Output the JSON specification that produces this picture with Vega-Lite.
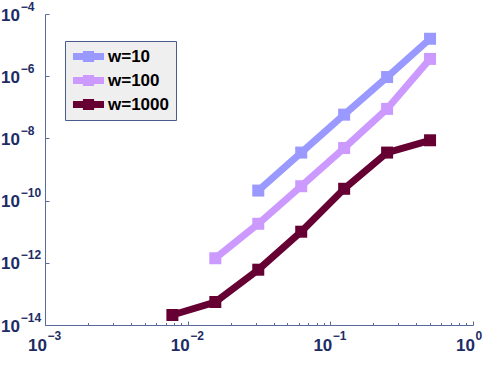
{
  "$schema": "https://vega.github.io/schema/vega-lite/v6.json",
  "autosize": {"type": "none"},
  "width": 428,
  "height": 311,
  "padding": {"left": 45, "top": 14, "right": 11, "bottom": 40},
  "background": "white",
  "config": {
    "view": {"stroke": null},
    "axis": {
      "labels": false,
      "grid": false,
      "title": null,
      "domainColor": "#5a6a9a",
      "tickColor": "#5a6a9a",
      "domainWidth": 1,
      "tickWidth": 1
    },
    "legend": {
      "orient": "none",
      "legendX": 20,
      "legendY": 27,
      "fillColor": "#efefef",
      "strokeColor": "#4a5c8c",
      "padding": 7,
      "rowPadding": 6,
      "symbolType": "M-1.94,-0.45H1.94V0.45H-1.94Z M-0.7,-0.7H0.7V0.7H-0.7Z",
      "symbolSize": 256,
      "symbolStrokeWidth": 0,
      "symbolOffset": 8,
      "labelOffset": 11,
      "labelFont": "Liberation Sans",
      "labelFontWeight": "bold",
      "labelFontSize": 17,
      "labelColor": "#000000",
      "title": null
    }
  },
  "datasets": {
    "errors": [
      {"h": 0.03125, "err": 2.1e-10, "w": "w=10"},
      {"h": 0.0625, "err": 3.5e-9, "w": "w=10"},
      {"h": 0.125, "err": 5.8e-8, "w": "w=10"},
      {"h": 0.25, "err": 9.4e-7, "w": "w=10"},
      {"h": 0.5, "err": 1.6e-5, "w": "w=10"},
      {"h": 0.015625, "err": 1.4e-12, "w": "w=100"},
      {"h": 0.03125, "err": 1.8e-11, "w": "w=100"},
      {"h": 0.0625, "err": 2.9e-10, "w": "w=100"},
      {"h": 0.125, "err": 4.9e-9, "w": "w=100"},
      {"h": 0.25, "err": 8.9e-8, "w": "w=100"},
      {"h": 0.5, "err": 3.6e-6, "w": "w=100"},
      {"h": 0.0078125, "err": 2.1e-14, "w": "w=1000"},
      {"h": 0.015625, "err": 5.5e-14, "w": "w=1000"},
      {"h": 0.03125, "err": 6.0e-13, "w": "w=1000"},
      {"h": 0.0625, "err": 1.0e-11, "w": "w=1000"},
      {"h": 0.125, "err": 2.4e-10, "w": "w=1000"},
      {"h": 0.25, "err": 3.5e-9, "w": "w=1000"},
      {"h": 0.5, "err": 8.7e-9, "w": "w=1000"}
    ],
    "xticks": [
      {"v": 0.001, "e": "−3"},
      {"v": 0.01, "e": "−2"},
      {"v": 0.1, "e": "−1"},
      {"v": 1, "e": "0"}
    ],
    "yticks": [
      {"v": 1e-4, "e": "−4"},
      {"v": 1e-6, "e": "−6"},
      {"v": 1e-8, "e": "−8"},
      {"v": 1e-10, "e": "−10"},
      {"v": 1e-12, "e": "−12"},
      {"v": 1e-14, "e": "−14"}
    ]
  },
  "layer": [
    {
      "data": {"name": "errors"},
      "mark": {
        "type": "line",
        "strokeWidth": 7,
        "point": {"shape": "square", "size": 144, "filled": true, "opacity": 1}
      },
      "encoding": {
        "x": {
          "field": "h",
          "type": "quantitative",
          "scale": {"type": "log", "domain": [0.001, 1], "nice": false},
          "axis": {
            "orient": "bottom",
            "values": [0.001, 0.002, 0.003, 0.004, 0.005, 0.006, 0.007, 0.008, 0.009,
                       0.01, 0.02, 0.03, 0.04, 0.05, 0.06, 0.07, 0.08, 0.09,
                       0.1, 0.2, 0.3, 0.4, 0.5, 0.6, 0.7, 0.8, 0.9, 1],
            "tickSize": {
              "condition": {"test": "indexof([0.001, 0.01, 0.1, 1], datum.value) >= 0", "value": -4},
              "value": -2.5
            }
          }
        },
        "y": {
          "field": "err",
          "type": "quantitative",
          "scale": {"type": "log", "domain": [1e-14, 1e-4], "nice": false},
          "axis": {
            "orient": "left",
            "values": [1e-4, 1e-6, 1e-8, 1e-10, 1e-12, 1e-14],
            "tickSize": -4
          }
        },
        "color": {
          "field": "w",
          "type": "nominal",
          "scale": {"domain": ["w=10", "w=100", "w=1000"], "range": ["#9999ff", "#cc99ff", "#660033"]},
          "legend": {
            "encode": {
              "symbols": {"update": {"fill": {"scale": "color", "field": "value"}, "stroke": {"value": "transparent"}, "opacity": {"value": 1}}}
            }
          }
        }
      }
    },
    {
      "data": {"name": "xticks"},
      "mark": {"type": "text", "text": "10", "align": "right", "baseline": "middle", "dx": 2, "dy": 21,
               "font": "Liberation Sans", "fontWeight": "bold", "fontSize": 17, "color": "#1c2c64"},
      "encoding": {
        "x": {"field": "v", "type": "quantitative"},
        "y": {"datum": 1e-14, "type": "quantitative"}
      }
    },
    {
      "data": {"name": "xticks"},
      "mark": {"type": "text", "align": "left", "baseline": "middle", "dx": 2.5, "dy": 11,
               "font": "Liberation Sans", "fontWeight": "bold", "fontSize": 12, "color": "#1c2c64"},
      "encoding": {
        "x": {"field": "v", "type": "quantitative"},
        "y": {"datum": 1e-14, "type": "quantitative"},
        "text": {"field": "e"}
      }
    },
    {
      "data": {"name": "yticks"},
      "mark": {"type": "text", "text": "10", "align": "right", "baseline": "middle", "dx": -25, "dy": 1.5,
               "font": "Liberation Sans", "fontWeight": "bold", "fontSize": 17, "color": "#1c2c64"},
      "encoding": {
        "x": {"datum": 0.001, "type": "quantitative"},
        "y": {"field": "v", "type": "quantitative"}
      }
    },
    {
      "data": {"name": "yticks"},
      "mark": {"type": "text", "align": "left", "baseline": "middle", "dx": -24.3, "dy": -7.5,
               "font": "Liberation Sans", "fontWeight": "bold", "fontSize": 12, "color": "#1c2c64"},
      "encoding": {
        "x": {"datum": 0.001, "type": "quantitative"},
        "y": {"field": "v", "type": "quantitative"},
        "text": {"field": "e"}
      }
    }
  ]
}
